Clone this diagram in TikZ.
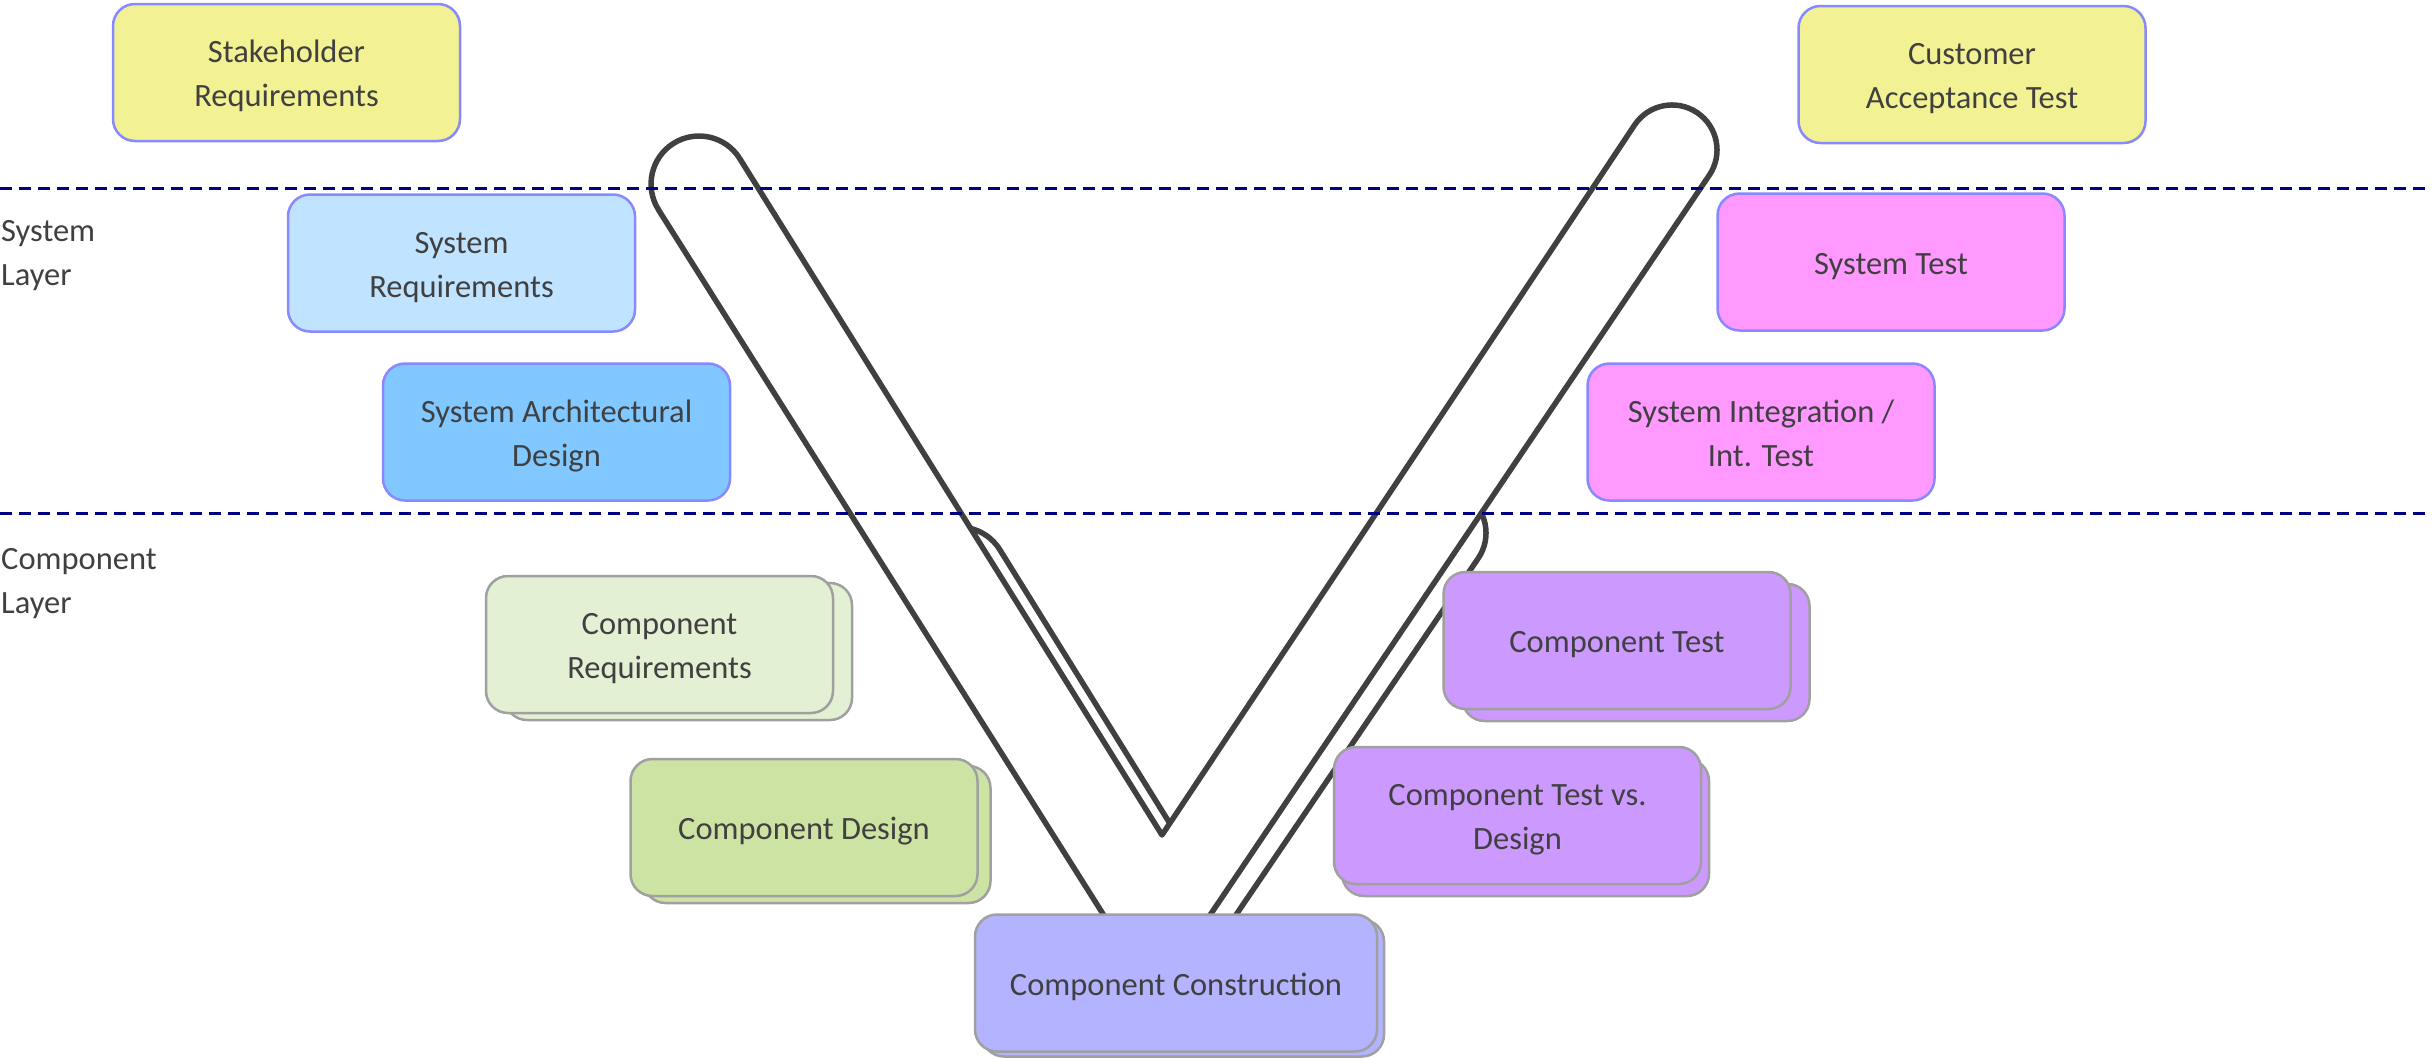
\documentclass[tikz,border=0pt]{standalone}
\usepackage{fontspec}
\setmainfont{Carlito}
\definecolor{txtgray}{HTML}{404040}
\definecolor{vgray}{HTML}{404040}
\definecolor{bordblue}{HTML}{8888FF}
\definecolor{bordgray}{HTML}{A0A0A0}
\definecolor{cyellow}{HTML}{F2F294}
\definecolor{cltblue}{HTML}{C0E4FF}
\definecolor{cblue}{HTML}{80C8FF}
\definecolor{cpink}{HTML}{FF99FF}
\definecolor{cltgreen}{HTML}{E4F0D4}
\definecolor{cgreen}{HTML}{CDE3A3}
\definecolor{cviolet}{HTML}{B3B3FF}
\definecolor{cpurple}{HTML}{CC99FF}
\definecolor{cnavy}{HTML}{000080}
\newcommand{\boxfont}{\fontsize{32.5}{44}\selectfont}
\newcommand{\bt}[1]{\raisebox{-3.5pt}[\height][\depth]{\begin{tabular}{@{}c@{}}#1\end{tabular}}}
\begin{document}
\begin{tikzpicture}[x=1pt,y=1pt,
  basebox/.style={rounded corners=22pt, line width=2.5pt, minimum width=347pt,
    minimum height=137pt, text=txtgray, font=\boxfont, inner sep=0pt},
  topbox/.style={basebox, draw=bordblue},
  compbox/.style={basebox, draw=bordgray},
  vshape/.style={draw=vgray, fill=white, line width=5.5pt, line join=round},
  layerline/.style={draw=cnavy, line width=3pt, dash pattern=on 12pt off 7pt},
  layerlabel/.style={text=txtgray, align=left, font=\boxfont, inner sep=0pt, anchor=west}]
\useasboundingbox (0,0) rectangle (2432,-1058);

% back V (shadow copy)
\path[vshape] (918.3,-600.5) -- (1175.1,-1004.5) -- (1478.4,-558)
  arc[start angle=-33.8, end angle=146.2, radius=45] -- (1182,-843) -- (999.7,-549.5)
  arc[start angle=32.1, end angle=212.1, radius=48] -- cycle;
% front V
\path[vshape] (658.3,-209.5) -- (1155.1,-996.5) -- (1709.4,-175)
  arc[start angle=-33.8, end angle=146.2, radius=45] -- (1162,-835) -- (739.7,-158.5)
  arc[start angle=32.1, end angle=212.1, radius=48] -- cycle;

% layer separators
\coordinate (l1a) at (0,-188);
\coordinate (l1b) at (2432,-188);
\coordinate (l2a) at (0,-513);
\coordinate (l2b) at (2432,-513);
\draw[layerline] (l1a) -- (l1b);
\draw[layerline] (l2a) -- (l2b);

% layer labels
\node[layerlabel] (syslayer) at (1,-256) {System\\Layer};
\node[layerlabel] (complayer) at (1,-584) {Component\\Layer};

% left side
\node[topbox, fill=cyellow] (stake) at (286.5,-72.5) {\bt{Stakeholder\\Requirements}};
\node[topbox, fill=cltblue] (sysreq) at (461.5,-263) {\bt{System\\Requirements}};
\node[topbox, fill=cblue] (sysarch) at (556.5,-432) {\bt{System Architectural\\Design}};
\node[compbox, fill=cltgreen] (compreqb) at (678.5,-651.5) {};
\node[compbox, fill=cltgreen] (compreq) at (659.5,-644.5) {\bt{Component\\Requirements}};
\node[compbox, fill=cgreen] (compdesb) at (817,-834.5) {};
\node[compbox, fill=cgreen] (compdes) at (804,-827.5) {\bt{Component Design}};

% bottom
\node[compbox, fill=cviolet, minimum width=402pt] (constrb) at (1183,-988) {};
\node[compbox, fill=cviolet, minimum width=402pt] (constr) at (1176,-983) {\bt{Component Construction}};

% right side
\node[compbox, fill=cpurple, minimum width=367pt] (ctdesb) at (1525.5,-827.5) {};
\node[compbox, fill=cpurple, minimum width=367pt] (ctdes) at (1517.5,-815.5) {\bt{Component Test vs.\\Design}};
\node[compbox, fill=cpurple] (ctestb) at (1636,-652.5) {};
\node[compbox, fill=cpurple] (ctest) at (1617,-640.5) {\bt{Component Test}};
\node[topbox, fill=cpink] (sysint) at (1761,-432) {\bt{System Integration /\\Int. Test}};
\node[topbox, fill=cpink] (systest) at (1891,-262) {\bt{System Test}};
\node[topbox, fill=cyellow] (custacc) at (1972,-74.5) {\bt{Customer\\Acceptance Test}};
\end{tikzpicture}
\end{document}
